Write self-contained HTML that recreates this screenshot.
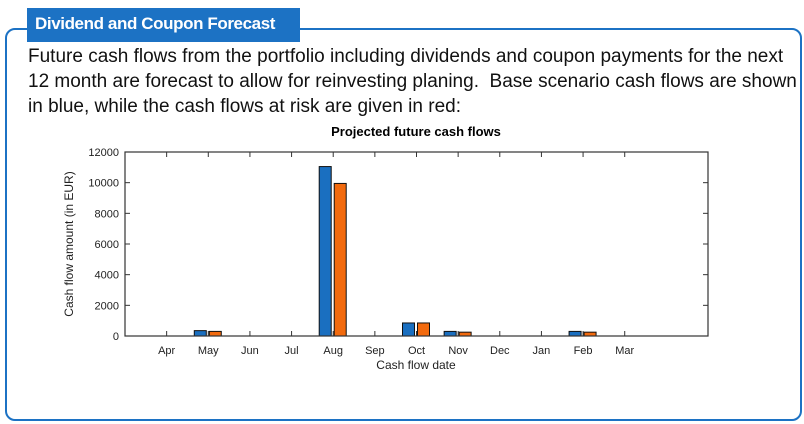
<!DOCTYPE html>
<html><head><meta charset="utf-8"><style>
body{margin:0;width:804px;height:424px;background:#fff;overflow:hidden;position:relative;font-family:"Liberation Sans",sans-serif}
#box{position:absolute;left:5px;top:28px;width:793px;height:389px;border:2px solid #1c72c4;border-radius:10px}
#hdr{position:absolute;left:27px;top:8px;width:273px;height:34px;background:#1c72c4;color:#fff;font-weight:bold;font-size:17px;line-height:32px;padding-left:8px;box-sizing:border-box;letter-spacing:-0.4px;white-space:nowrap;overflow:hidden}
#txt{position:absolute;left:28px;top:44px;width:775px;font-size:19px;line-height:25px;color:#111;letter-spacing:0;white-space:nowrap}
svg{position:absolute;left:0;top:0}
</style></head><body>
<div id="box"></div>
<div id="hdr">Dividend and Coupon Forecast</div>
<div id="txt">Future cash flows from the portfolio including dividends and coupon payments for the next<br>12 month are forecast to allow for reinvesting planing.&nbsp; Base scenario cash flows are shown<br>in blue, while the cash flows at risk are given in red:</div>
<svg id="chart" width="804" height="424"></svg>
<script>
const months=["Apr","May","Jun","Jul","Aug","Sep","Oct","Nov","Dec","Jan","Feb","Mar"];
const baseFlows=[0,350,0,0,11050,0,850,300,0,0,300,0];
const riskFlows=[0,300,0,0,9950,0,850,250,0,0,250,0];
const yTicks=[0,2000,4000,6000,8000,10000,12000];
const NS="http://www.w3.org/2000/svg";
const svg=document.getElementById('chart');
const L=125,R=708,T=152,B=336;
const x=i=>L+(i+1)*(R-L)/14;
const y=v=>B-v*(B-T)/12000;
function mk(t,a,txt){const e=document.createElementNS(NS,t);for(const k in a)e.setAttribute(k,a[k]);if(txt!==undefined)e.textContent=txt;svg.appendChild(e);return e;}
let e;
e=mk('text',{x:416,y:136,'text-anchor':'middle','font-size':13,'font-weight':'bold',fill:'#000'},'Projected future cash flows');


e=mk('rect',{x:L,y:T,width:R-L,height:B-T,fill:'#fff',stroke:'none'});


yTicks.forEach(v=>{
 e=mk('line',{x1:L,x2:L+5,y1:y(v),y2:y(v),stroke:'#333'});
 
 
 e=mk('line',{x1:R-5,x2:R,y1:y(v),y2:y(v),stroke:'#333'});
 
 
 e=mk('text',{x:L-6,y:y(v)+4,'text-anchor':'end','font-size':11,fill:'#222'},String(v));
 
 
});
months.forEach((m,i)=>{
 e=mk('line',{x1:x(i),x2:x(i),y1:B,y2:B-5,stroke:'#333'});
 
 
 e=mk('line',{x1:x(i),x2:x(i),y1:T,y2:T+5,stroke:'#333'});
 
 
 e=mk('text',{x:x(i),y:B+18,'text-anchor':'middle','font-size':11,fill:'#222'},m);
 
 
 if(baseFlows[i]>0){
  e=mk('rect',{x:x(i)-14,y:y(baseFlows[i]),width:12,height:B-y(baseFlows[i]),fill:'#1a6fc0',stroke:'#111','stroke-width':1});
  
  
 }
 if(riskFlows[i]>0){
  e=mk('rect',{x:x(i)+1,y:y(riskFlows[i]),width:12,height:B-y(riskFlows[i]),fill:'#f26a0e',stroke:'#111','stroke-width':1});
  
  
 }
});
e=mk('rect',{x:L,y:T,width:R-L,height:B-T,fill:'none',stroke:'#333','stroke-width':1.2});


e=mk('text',{x:416,y:369,'text-anchor':'middle','font-size':12,fill:'#222'},'Cash flow date');


e=mk('text',{x:0,y:0,transform:'translate(73,244) rotate(-90)','text-anchor':'middle','font-size':12,fill:'#222'},'Cash flow amount (in EUR)');


</script>
</body></html>
